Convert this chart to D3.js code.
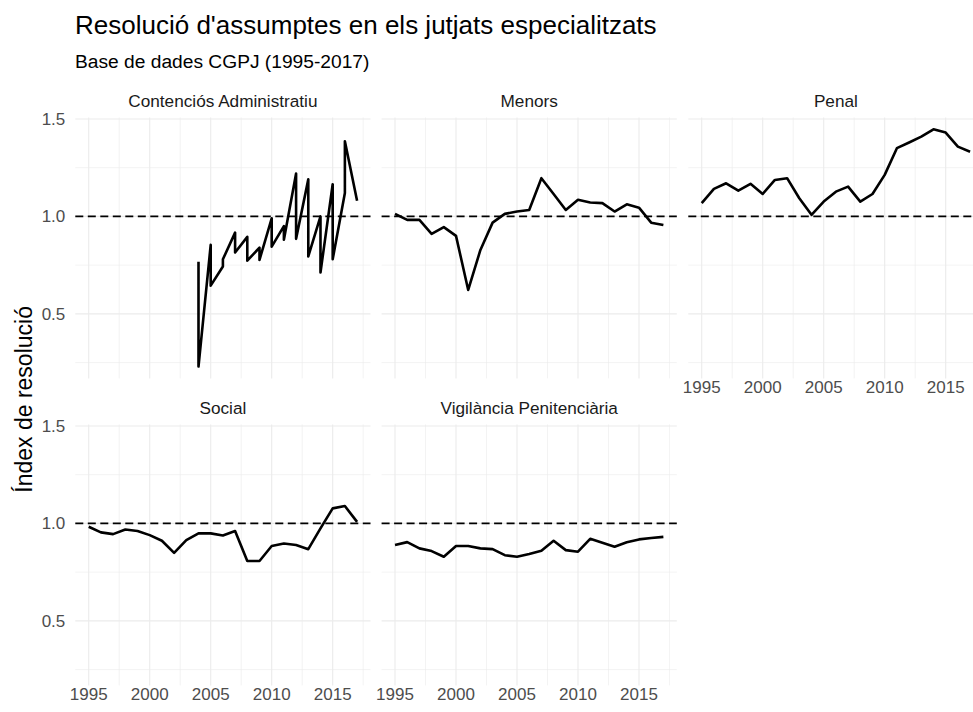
<!DOCTYPE html>
<html>
<head>
<meta charset="utf-8">
<script src="https://cdn.jsdelivr.net/npm/d3@7"></script>
<style>
  body { margin: 0; background: #fff; }
  text { font-family: "Liberation Sans", Arial, sans-serif; }
</style>
</head>
<body>
<svg id="chart"></svg>
<script>
// data
var years = d3.range(1995, 2018);

var contenciosYears = [2004, 2004, 2005, 2005, 2006, 2006, 2007, 2007, 2008, 2008, 2009, 2009,
  2010, 2010, 2011, 2011, 2012, 2012, 2013, 2013, 2014, 2014, 2015, 2015, 2016, 2016, 2017];
var contenciosValues = [0.768, 0.23, 0.854, 0.645, 0.743, 0.78, 0.917, 0.815, 0.895, 0.773, 0.84, 0.777,
  0.99, 0.845, 0.95, 0.88, 1.22, 0.885, 1.19, 0.795, 1.0, 0.712, 1.165, 0.78, 1.12, 1.385, 1.08];

var menors = [1.013, 0.982, 0.982, 0.910, 0.945, 0.900, 0.623, 0.828, 0.968, 1.013, 1.025, 1.033,
  1.196, 1.115, 1.033, 1.085, 1.071, 1.068, 1.025, 1.062, 1.045, 0.968, 0.956];
var penal = [1.068, 1.141, 1.170, 1.132, 1.167, 1.115, 1.187, 1.196, 1.093, 1.008, 1.076, 1.127,
  1.153, 1.076, 1.115, 1.213, 1.350, 1.379, 1.409, 1.447, 1.430, 1.358, 1.332];
var social = [0.983, 0.954, 0.945, 0.969, 0.961, 0.940, 0.911, 0.849, 0.914, 0.949, 0.949, 0.938,
  0.961, 0.807, 0.807, 0.884, 0.897, 0.889, 0.868, 0.975, 1.077, 1.089, 1.008];
var vigilancia = [0.889, 0.904, 0.872, 0.858, 0.829, 0.884, 0.884, 0.872, 0.868, 0.837, 0.829, 0.843,
  0.860, 0.911, 0.863, 0.855, 0.921, 0.901, 0.880, 0.903, 0.918, 0.925, 0.931];

var facetNames = ["Contenciós Administratiu", "Menors", "Penal", "Social", "Vigilància Penitenciària"];

var facets = [
  { name: facetNames[0], pts: contenciosYears.map((y, i) => [y, contenciosValues[i]]) },
  { name: facetNames[1], pts: years.map((y, i) => [y, menors[i]]) },
  { name: facetNames[2], pts: years.map((y, i) => [y, penal[i]]) },
  { name: facetNames[3], pts: years.map((y, i) => [y, social[i]]) },
  { name: facetNames[4], pts: years.map((y, i) => [y, vigilancia[i]]) }
];

var W = 973, H = 712;
var svg = d3.select("#chart").attr("width", W).attr("height", H);

var ncol = 3;
var panelW = 295.2, panelH = 261;
var colX = [75.3, 381.6, 688.3];
var rowY = [117.4, 424.4];

// ggplot style 5% expansion
function expand(ext) {
  var d = (ext[1] - ext[0]) * 0.05;
  return [ext[0] - d, ext[1] + d];
}
var allVals = [].concat(contenciosValues, menors, penal, social, vigilancia);
var x = d3.scaleLinear().domain(expand(d3.extent(years))).range([0, panelW]);
var y = d3.scaleLinear().domain(expand(d3.extent(allVals))).range([panelH, 0]);

var xMajor = [1995, 2000, 2005, 2010, 2015];
var xMinor = [1997.5, 2002.5, 2007.5, 2012.5, 2017.5];
var yMajor = [0.5, 1.0, 1.5];
var yMinor = [0.25, 0.75, 1.25];

// title
svg.append("text").attr("x", 75).attr("y", 34)
  .style("font-size", "26px").attr("fill", "#000")
  .text("Resolució d'assumptes en els jutjats especialitzats");
svg.append("text").attr("x", 75).attr("y", 68)
  .style("font-size", "19.2px").attr("fill", "#000")
  .text("Base de dades CGPJ (1995-2017)");

// y axis title
svg.append("text")
  .attr("transform", "translate(32," + ((rowY[0] + rowY[1] + panelH) / 2 - 2) + ") rotate(-90)")
  .attr("text-anchor", "middle")
  .style("font-size", "23px").attr("fill", "#000")
  .text("Índex de resolució");

var line = d3.line().x(d => x(d[0])).y(d => y(d[1]));

facets.forEach(function (f, i) {
  var col = i % ncol, row = Math.floor(i / ncol);
  var g = svg.append("g").attr("transform", `translate(${colX[col]}, ${rowY[row]})`);

  // minor grid
  g.selectAll("line.xminor").data(xMinor).join("line")
    .attr("x1", d => x(d)).attr("x2", d => x(d)).attr("y1", 0).attr("y2", panelH)
    .attr("stroke", "#EBEBEB").attr("stroke-width", 0.6);
  g.selectAll("line.yminor").data(yMinor).join("line")
    .attr("y1", d => y(d)).attr("y2", d => y(d)).attr("x1", 0).attr("x2", panelW)
    .attr("stroke", "#EBEBEB").attr("stroke-width", 0.6);
  // major grid
  g.selectAll("line.xmajor").data(xMajor).join("line")
    .attr("x1", d => x(d)).attr("x2", d => x(d)).attr("y1", 0).attr("y2", panelH)
    .attr("stroke", "#EBEBEB").attr("stroke-width", 1.1);
  g.selectAll("line.ymajor").data(yMajor).join("line")
    .attr("y1", d => y(d)).attr("y2", d => y(d)).attr("x1", 0).attr("x2", panelW)
    .attr("stroke", "#EBEBEB").attr("stroke-width", 1.1);

  // strip label
  g.append("text").attr("x", panelW / 2).attr("y", -10)
    .attr("text-anchor", "middle")
    .style("font-size", "17.2px").attr("fill", "#1A1A1A")
    .text(f.name);

  // data line
  g.append("path").datum(f.pts)
    .attr("d", line)
    .attr("fill", "none").attr("stroke", "#000")
    .attr("stroke-width", 2.6).attr("stroke-linejoin", "round");

  // reference line at 1
  g.append("line")
    .attr("x1", 0).attr("x2", panelW).attr("y1", y(1)).attr("y2", y(1))
    .attr("stroke", "#000").attr("stroke-width", 1.6)
    .attr("stroke-dasharray", "8,4.5");

  // y tick labels on first column
  if (col === 0) {
    g.selectAll("text.ytick").data(yMajor).join("text")
      .attr("x", -10).attr("y", d => y(d)).attr("dy", "0.35em")
      .attr("text-anchor", "end")
      .style("font-size", "17px").attr("fill", "#4D4D4D")
      .text(d3.format(".1f"));
  }
  // x tick labels on lowest panel of each column
  var lowest = (i + ncol >= facets.length);
  if (lowest) {
    g.selectAll("text.xtick").data(xMajor).join("text")
      .attr("x", d => x(d)).attr("y", panelH + 15)
      .attr("text-anchor", "middle")
      .style("font-size", "17px").attr("fill", "#4D4D4D")
      .text(d => d);
  }
});
</script>
</body>
</html>
